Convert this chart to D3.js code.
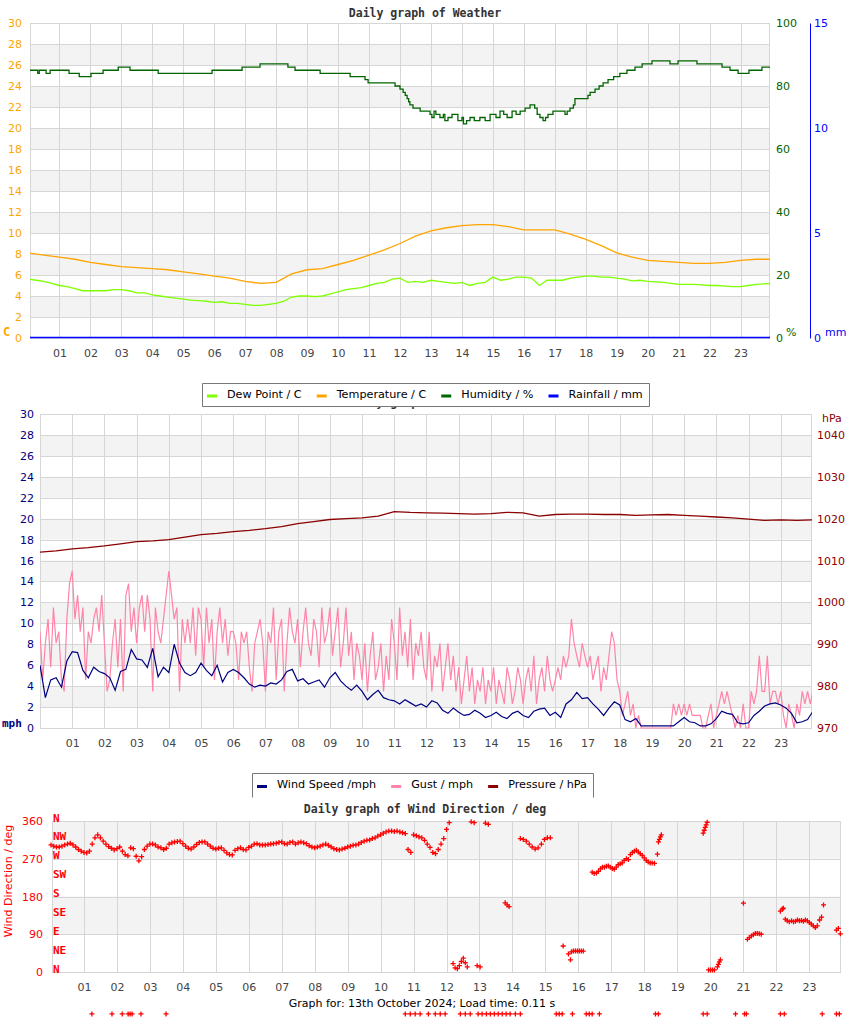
<!DOCTYPE html>
<html>
<head>
<meta charset="utf-8">
<script src="https://cdn.jsdelivr.net/npm/d3@7"></script>
<style>
  body { margin: 0; background: #fff; }
</style>
</head>
<body>
<div id="chart"></div>
<script>
// ---------- data ----------
const hourTicks = [1,2,3,4,5,6,7,8,9,10,11,12,13,14,15,16,17,18,19,20,21,22,23];

// weather panel
const tempTicks = [0,2,4,6,8,10,12,14,16,18,20,22,24,26,28,30];
const humTicks = [0,20,40,60,80,100];
const rainTicks = [0,5,10,15];
// temperature C, every 30 min from 00:00
const tempValues = [8.1,7.9,7.7,7.5,7.2,7.0,6.8,6.7,6.6,6.5,6.3,6.1,5.9,5.7,5.4,5.2,
    5.3,6.1,6.5,6.6,7.0,7.4,7.9,8.4,9.0,9.7,10.2,10.5,10.7,10.8,10.8,10.6,
    10.3,10.3,10.3,9.9,9.4,8.8,8.1,7.7,7.4,7.3,7.2,7.1,7.1,7.2,7.4,7.5,7.5];
// dew point C, every 15 min from 00:00
const dewValues = [5.6,5.5,5.4,5.2,5.0,4.9,4.7,4.5,4.5,4.5,4.5,4.6,4.6,4.5,4.3,4.3,
    4.1,4.0,3.9,3.8,3.7,3.6,3.55,3.5,3.4,3.45,3.3,3.3,3.2,3.1,3.1,3.2,
    3.3,3.5,3.9,4.0,4.0,3.95,4.0,4.2,4.4,4.6,4.7,4.8,5.0,5.2,5.3,5.6,
    5.7,5.3,5.4,5.3,5.5,5.4,5.3,5.2,5.3,5.0,5.2,5.3,5.8,5.5,5.6,5.8,
    5.8,5.7,5.0,5.5,5.5,5.5,5.7,5.8,5.9,5.9,5.8,5.8,5.7,5.6,5.45,5.5,
    5.4,5.35,5.3,5.2,5.1,5.1,5.1,5.05,5.0,5.0,4.95,4.9,4.9,5.0,5.1,5.15,5.2];
// humidity %, [hour, value] steps
const humidity = [[0,85],[0.3,84],[0.35,85],[0.57,84],[0.70,85],[1.31,84],[1.64,83],[2.02,84],
    [2.41,85],[2.90,86],[3.28,85],[4.19,84],[5.93,85],[6.90,86],[7.48,87],[8.38,86],[8.61,85],
    [9.42,84],[10.39,83],[10.87,82],[10.97,81],[11.84,80],[12.0,79],[12.10,78],[12.17,77],
    [12.23,76],[12.28,75],[12.32,74],[12.42,73],[12.65,72],[12.97,71],[13.03,70],[13.1,72],
    [13.16,71],[13.29,70],[13.4,71],[13.45,69],[13.55,70],[13.68,71],[13.87,69],[14.0,70],
    [14.05,68],[14.15,69],[14.26,70],[14.4,69],[14.58,70],[14.75,69],[14.91,71],[15.1,70],
    [15.23,72],[15.35,71],[15.46,70],[15.62,72],[15.75,71],[15.88,72],[16.04,73],[16.2,74],
    [16.35,73],[16.43,71],[16.52,70],[16.62,69],[16.70,70],[16.78,71],[16.94,72],[17.33,71],
    [17.40,72],[17.49,73],[17.60,74],[17.65,76],[18.07,77],[18.14,78],[18.30,79],[18.43,80],
    [18.56,81],[18.72,82],[18.90,83],[19.10,84],[19.33,85],[19.59,86],[19.82,87],[20.14,88],
    [20.72,87],[20.98,88],[21.59,87],[22.40,86],[22.66,85],[22.92,84],[23.27,85],[23.69,86],[24,86]];
const rainfall = [[0,0],[24,0]];

// wind panel
const windTicks = [0,2,4,6,8,10,12,14,16,18,20,22,24,26,28,30];
const pressTicks = [970,980,990,1000,1010,1020,1030,1040];
// wind speed mph, every 10 min from 00:00
const windSpeed = [6.0,2.9,4.6,4.8,3.9,6.4, 7.3,7.2,5.5,4.8,5.8,5.4, 5.2,4.8,3.6,5.4,5.6,7.5,
    6.6,6.5,5.8,7.6,4.9,5.8, 5.3,8.0,6.2,5.3,5.0,5.3, 6.2,5.5,5.0,6.0,4.4,5.3,
    5.6,5.3,4.8,4.2,3.9,4.1, 4.0,4.3,4.2,4.6,5.4,5.6, 4.5,4.7,4.2,4.4,4.6,3.9,
    4.8,5.3,4.5,4.0,3.6,4.1, 3.5,2.7,3.2,3.6,2.9,2.7, 2.6,2.3,2.7,2.4,2.1,2.3,
    2.0,2.6,2.4,1.7,1.4,1.9, 1.5,1.2,1.3,1.7,1.4,1.0, 1.2,1.5,1.1,0.9,1.4,1.6,
    1.2,1.0,1.6,1.8,1.9,1.2, 1.5,1.0,2.3,2.7,3.4,2.8, 2.9,2.3,1.8,1.2,1.9,2.5,
    2.2,0.8,0.6,0.9,0.2,0.2, 0.2,0.2,0.2,0.2,0.2,0.6, 1.0,0.6,0.5,0.2,0.2,0.4,
    0.9,1.6,1.4,1.3,0.5,0.4, 0.5,1.2,1.6,2.1,2.3,2.4, 2.2,1.9,1.4,0.5,0.6,0.8, 1.6];
// gust mph, every 5 min from 00:00
const gust = [
    9.2,4.6,8.1,10.4,5.8,11.5,8.1,9.2,4.6,3.5,10.4,13.8,
    15.0,10.4,12.7,9.2,11.5,4.6,9.2,8.1,10.4,11.5,9.2,12.7,
    8.1,3.5,4.6,8.1,10.4,5.8,10.4,3.5,12.7,13.8,9.2,11.5,
    8.1,11.5,12.7,9.2,12.7,10.4,3.5,11.5,9.2,8.1,10.4,12.7,
    15.0,12.7,10.4,11.5,3.5,10.4,8.1,10.4,8.1,11.5,6.9,11.5,
    10.4,5.8,11.5,8.1,10.4,4.6,9.2,11.5,8.1,10.4,6.9,9.2,
    9.2,8.1,4.6,9.2,8.1,9.2,5.8,3.5,8.1,9.2,10.4,8.1,
    3.5,9.2,8.1,11.5,4.6,9.2,10.4,3.5,8.1,11.5,9.2,8.1,
    10.4,5.8,9.2,11.5,8.1,6.9,10.4,9.2,5.8,11.5,8.1,9.2,
    11.5,6.9,9.2,11.5,5.8,8.1,11.5,6.9,9.2,4.6,8.1,6.9,
    4.6,8.1,3.5,6.9,9.2,4.6,5.8,8.1,3.5,6.9,4.6,10.4,
    8.1,4.6,11.5,6.9,9.2,5.8,10.4,4.6,8.1,6.9,9.2,5.8,
    4.6,9.2,3.5,6.9,5.8,8.1,3.5,5.8,8.1,4.6,6.9,3.5,
    5.8,2.3,4.6,6.9,3.5,5.8,2.3,4.6,3.5,5.8,2.3,4.6,
    3.5,5.8,2.3,4.6,3.5,2.3,5.8,4.6,2.3,3.5,5.8,4.6,
    2.3,4.6,5.8,3.5,6.9,2.3,4.6,5.8,3.5,6.9,4.6,3.5,
    4.6,5.8,4.6,6.9,5.8,6.9,10.4,8.1,6.9,5.8,8.1,6.9,
    5.8,6.9,4.6,5.8,6.9,3.5,5.8,4.6,6.9,9.2,8.1,4.6,
    3.5,1.2,2.3,3.5,1.2,2.3,0,1.2,0,0,0,0,
    0,0,0,0,0,0,0,0,2.3,1.2,2.3,1.2,
    2.3,1.2,2.3,1.2,1.2,1.2,1.2,0,0,1.2,2.3,0,
    1.2,2.3,3.5,2.3,3.5,2.3,1.2,0,1.2,0,2.3,0,
    0,3.5,2.3,3.5,6.9,3.5,3.5,6.9,2.3,3.5,3.5,2.3,
    3.5,1.2,0,2.3,1.2,0,2.3,1.2,3.5,2.3,3.5,2.3,
    3.5];
// pressure hPa, every 30 min from 00:00
const pressure = [1012.0,1012.3,1012.8,1013.1,1013.5,1014.0,1014.5,1014.7,1015.0,1015.6,
    1016.2,1016.5,1016.9,1017.2,1017.6,1018.1,1018.8,1019.3,1019.8,1020.0,1020.2,1020.6,
    1021.7,1021.5,1021.4,1021.3,1021.2,1021.1,1021.2,1021.5,1021.4,1020.6,1021.0,1021.1,
    1021.1,1021.0,1021.0,1020.8,1020.9,1021.0,1020.8,1020.6,1020.4,1020.2,1019.9,1019.6,
    1019.7,1019.6,1019.7];

// wind direction panel
const dirTicks = [0,90,180,270,360];
const compassDegs = [360,315,270,225,180,135,90,45,0];
const compassNames = ["N","NW","W","SW","S","SE","E","NE","N"];
// direction deg, every 5 min from 00:00 to 12:05
const dirEarly = [303,300,298,298,300,303,305,307,303,298,292,288,
    285,284,288,305,320,327,320,312,305,299,295,291,
    294,298,288,280,277,296,294,276,265,275,292,300,
    305,305,303,298,296,292,295,305,308,310,311,312,
    306,300,295,293,298,304,309,310,310,305,300,295,
    293,295,296,290,284,280,279,290,294,296,292,291,
    297,300,305,306,303,303,303,304,305,306,307,309,
    310,306,305,309,310,305,308,310,308,306,301,298,
    296,298,300,303,305,302,298,294,292,291,293,295,
    298,300,302,303,305,309,312,314,315,318,320,324,
    327,331,334,336,336,335,336,334,332,330,292,285,
    327,325,322,320,314,305,297,285,282,292,305,318,
    340,356];
// later readings [hour, deg]
const dirLate = [[12.20,20],[12.26,10],[12.33,8],[12.39,15],[12.45,25],[12.51,33],[12.57,22],[12.63,12],
    [12.75,358],[12.84,356],[12.93,15],[13.02,12],[13.18,355],[13.27,352],
    [13.78,165],[13.84,160],[13.90,156],
    [14.24,318],[14.33,316],[14.42,312],[14.51,305],[14.60,298],[14.69,293],[14.78,296],[14.88,305],
    [14.97,316],[15.06,320],[15.15,320],
    [15.54,62],[15.70,43],[15.76,29],[15.79,48],[15.85,50],[15.91,50],[15.97,50],[16.03,50],[16.09,50],[16.15,50],
    [16.42,238],[16.48,235],[16.55,236],[16.61,240],[16.67,246],[16.73,250],[16.79,250],[16.85,252],
    [16.91,253],[16.97,250],[17.03,247],[17.09,245],[17.15,250],[17.21,256],[17.27,258],[17.33,260],
    [17.39,266],[17.46,270],[17.52,268],[17.58,280],[17.64,285],[17.70,288],[17.76,290],[17.82,286],
    [17.88,282],[17.94,278],[18.00,272],[18.06,266],[18.12,262],[18.18,260],[18.24,260],[18.31,259],
    [18.40,281],[18.43,310],[18.46,316],[18.49,322],[18.52,327],
    [19.79,331],[19.82,338],[19.85,345],[19.88,351],[19.91,357],
    [19.95,5],[20.01,5],[20.07,5],[20.13,5],[20.22,12],[20.25,18],[20.28,24],[20.31,29],
    [21.01,164],
    [21.13,78],[21.19,82],[21.25,86],[21.31,89],[21.37,92],[21.43,92],[21.49,91],[21.55,90],
    [22.13,145],[22.19,150],[22.22,152],
    [22.28,126],[22.34,122],[22.40,120],[22.47,122],[22.53,120],[22.59,121],[22.65,124],[22.71,122],
    [22.77,123],[22.83,121],[22.89,124],[22.95,122],[23.01,118],[23.07,114],[23.13,110],[23.19,106],
    [23.25,110],[23.32,124],[23.38,131],[23.44,160],
    [23.83,100],[23.89,104],[23.95,91]];
// calm readings, logged at -100 deg
const calmDeg = -100;
const calmHours = [1.24,1.85,2.16,2.34,2.40,2.46,2.73,3.49,10.75,10.90,11.05,11.20,11.45,11.66,
    11.81,11.96,12.42,12.57,12.72,12.96,13.08,13.21,13.33,13.45,13.57,13.69,13.81,13.93,14.09,
    14.24,15.33,15.42,15.51,15.82,16.24,16.33,16.42,16.64,18.34,18.43,19.79,19.91,20.77,21.04,
    21.10,22.13,22.25,23.40,23.83,23.92];

// ---------- drawing ----------
const sans = "'DejaVu Sans', sans-serif";
const mono = "'DejaVu Sans Mono', monospace";
const gridColor = "#d6d6d6", bandColor = "#f3f3f3";

const svg = d3.select("#chart").append("svg")
    .attr("width", 850).attr("height", 1017)
    .style("display", "block")
    .attr("font-family", sans);

let clipId = 0;
function frame(x, y, bandStarts, bandSize, gridVals) {
    const [x0, x1] = x.range(), [yb, yt] = y.range();
    const g = svg.append("g");
    g.selectAll(null).data(bandStarts).join("rect")
        .attr("x", x0).attr("width", x1 - x0)
        .attr("y", d => y(d + bandSize)).attr("height", d => y(d) - y(d + bandSize))
        .attr("fill", bandColor);
    g.selectAll(null).data(gridVals).join("line")
        .attr("x1", x0).attr("x2", x1)
        .attr("y1", d => Math.round(y(d)) + 0.5).attr("y2", d => Math.round(y(d)) + 0.5)
        .attr("stroke", gridColor);
    g.selectAll(null).data(hourTicks).join("line")
        .attr("x1", d => Math.round(x(d)) + 0.5).attr("x2", d => Math.round(x(d)) + 0.5)
        .attr("y1", yb).attr("y2", yt)
        .attr("stroke", gridColor);
    g.append("rect")
        .attr("x", x0 + 0.5).attr("y", yt + 0.5)
        .attr("width", x1 - x0 - 1).attr("height", yb - yt)
        .attr("fill", "none").attr("stroke", gridColor);
    // clip for the series
    const id = "clip" + (clipId++);
    svg.append("clipPath").attr("id", id).append("rect")
        .attr("x", x0).attr("y", yt - 2).attr("width", x1 - x0).attr("height", yb - yt + 3);
    return id;
}

function axis(gen, tx, ty, color) {
    const g = svg.append("g").attr("transform", `translate(${tx},${ty})`).call(gen);
    g.attr("font-family", null).attr("font-size", 11);
    g.select(".domain").remove();
    g.selectAll("text").attr("fill", color);
    return g;
}

function xAxis(x, y) {
    axis(d3.axisBottom(x).tickValues(hourTicks).tickFormat(d3.format("02d"))
        .tickSize(0).tickPadding(11), 0, y.range()[0], "#444");
}

function title(text, y) {
    svg.append("text").attr("x", 425).attr("y", y)
        .attr("text-anchor", "middle")
        .attr("font-family", mono).attr("font-weight", "bold").attr("font-size", 11.5)
        .attr("fill", "#333").text(text);
}

function label(text, x, y, color, opts = {}) {
    return svg.append("text").attr("x", x).attr("y", y)
        .attr("dominant-baseline", "middle")
        .attr("font-family", opts.font || sans)
        .attr("font-weight", opts.bold ? "bold" : null)
        .attr("font-size", opts.size || 11)
        .attr("text-anchor", opts.anchor || "start")
        .attr("fill", color).text(text);
}

function legend(x0, yTop, h, names, colors, closed) {
    const g = svg.append("g");
    const box = g.append("path");
    let sx = x0 + 5;
    const cy = yTop + h / 2;
    names.forEach((n, i) => {
        g.append("line").attr("x1", sx).attr("x2", sx + 10)
            .attr("y1", cy + 1.5).attr("y2", cy + 1.5)
            .attr("stroke", colors[i]).attr("stroke-width", 3);
        const t = g.append("text").attr("x", sx + 20).attr("y", cy)
            .attr("dominant-baseline", "middle").attr("font-size", 11.2)
            .attr("fill", "#000").text(n);
        sx = sx + 20 + t.node().getComputedTextLength() + 15;
    });
    const x1 = sx - 15 + 6;
    const L = x0 + 0.5, R = Math.round(x1) + 0.5, T = yTop + 0.5, B = yTop + h + 0.5;
    box.attr("d", closed ? `M${L},${T}H${R}V${B}H${L}Z` : `M${L},${B}V${T}H${R}V${B}`)
        .attr("fill", "#fff").attr("stroke", "#777");
}

// ---- panel 1: weather ----
title("Daily graph of Weather", 17);
const x1 = d3.scaleLinear().domain([0.05, 23.95]).range([30, 770]);
const yT = d3.scaleLinear().domain([0, 30]).range([338, 23]);
const yH = d3.scaleLinear().domain([0, 100]).range([338, 23]);
const yR = d3.scaleLinear().domain([0, 15]).range([338, 23]);
const clip1 = frame(x1, yT, [2,6,10,14,18,22,26], 2, tempTicks);

const p1 = svg.append("g").attr("clip-path", `url(#${clip1})`).attr("fill", "none")
    .attr("stroke-width", 1.3);
p1.append("path").datum(humidity)
    .attr("d", d3.line().x(d => x1(d[0])).y(d => yH(d[1])).curve(d3.curveStepAfter))
    .attr("stroke", "#006400");
p1.append("path").datum(tempValues)
    .attr("d", d3.line().x((d, i) => x1(i * 0.5)).y(d => yT(d)))
    .attr("stroke", "#ffa500");
p1.append("path").datum(dewValues)
    .attr("d", d3.line().x((d, i) => x1(i * 0.25)).y(d => yT(d)))
    .attr("stroke", "#7fff00");
p1.append("path").datum(rainfall)
    .attr("d", d3.line().x(d => x1(d[0])).y(d => yR(d[1]) - 0.5))
    .attr("stroke", "#0000ff").attr("stroke-width", 1.6);

axis(d3.axisLeft(yT).tickValues(tempTicks).tickSize(0).tickPadding(8), 30, 0, "#ffa500");
axis(d3.axisRight(yH).tickValues(humTicks).tickSize(0).tickPadding(6), 770, 0, "#006400");
const rainAxis = svg.append("g").attr("transform", "translate(810,0)")
    .call(d3.axisRight(yR).tickValues(rainTicks).tickSize(0).tickSizeOuter(0).tickPadding(4));
rainAxis.attr("font-family", null).attr("font-size", 11);
rainAxis.select(".domain").attr("stroke", "#0000ff");
rainAxis.selectAll("text").attr("fill", "#0000ff");
xAxis(x1, yT);
label("C", 3, 332, "#ffa500", {font: mono, bold: true, size: 12});
label("%", 786, 333, "#006400");
label("mm", 825, 333, "#0000ff");

// ---- panel 2: wind / pressure ----
// this title sits mostly under the weather legend, as in the original page
title("Daily graph of Weather", 405.5);
const x2 = d3.scaleLinear().domain([0, 23.97]).range([40, 812]);
const yW = d3.scaleLinear().domain([0, 30]).range([728, 414]);
const yP = d3.scaleLinear().domain([970, 1045]).range([728, 414]);
const clip2 = frame(x2, yW, [2,6,10,14,18,22,26], 2, windTicks);

const p2 = svg.append("g").attr("clip-path", `url(#${clip2})`).attr("fill", "none")
    .attr("stroke-width", 1.2);
p2.append("path").datum(gust)
    .attr("d", d3.line().x((d, i) => x2(i / 12)).y(d => yW(d)))
    .attr("stroke", "#ff85a8");
p2.append("path").datum(windSpeed)
    .attr("d", d3.line().x((d, i) => x2(i / 6)).y(d => yW(d)))
    .attr("stroke", "#000080");
p2.append("path").datum(pressure)
    .attr("d", d3.line().x((d, i) => x2(i * 0.5)).y(d => yP(d)))
    .attr("stroke", "#8b0000").attr("stroke-width", 1.3);

axis(d3.axisLeft(yW).tickValues(windTicks).tickSize(0).tickPadding(6), 40, 0, "#000080");
axis(d3.axisRight(yP).tickValues(pressTicks).tickFormat(d3.format("d"))
    .tickSize(0).tickPadding(5), 812, 0, "#8b0000");
xAxis(x2, yW);
label("mph", 2, 723.5, "#000080", {font: mono, bold: true});
label("hPa", 822, 419, "#8b0000");

legend(202, 383, 23, ["Dew Point / C", "Temperature / C", "Humidity / %", "Rainfall / mm"],
    ["#7fff00", "#ffa500", "#006400", "#0000ff"], true);

// ---- panel 3: wind direction ----
legend(252, 773, 24, ["Wind Speed /mph", "Gust / mph", "Pressure / hPa"],
    ["#000080", "#ff85a8", "#8b0000"], false);
title("Daily graph of Wind Direction / deg", 813);
const x3 = d3.scaleLinear().domain([0.03, 23.97]).range([52, 841]);
const yD = d3.scaleLinear().domain([0, 360]).range([972, 821]);
frame(x3, yD, [90, 270], 90, dirTicks);

axis(d3.axisLeft(yD).tickValues(dirTicks).tickSize(0).tickPadding(9), 52, 0, "#ff0000");
xAxis(x3, yD);
svg.append("g").selectAll("text").data(compassDegs).join("text")
    .attr("x", 53).attr("y", d => yD(d) - 2.5)
    .attr("dominant-baseline", "middle")
    .attr("font-family", mono).attr("font-weight", "bold").attr("font-size", 11)
    .attr("fill", "#ff0000")
    .text((d, i) => compassNames[i]);
svg.append("text")
    .attr("transform", "translate(9,881) rotate(-90)")
    .attr("text-anchor", "middle").attr("dominant-baseline", "middle")
    .attr("font-size", 11).attr("fill", "#ff0000")
    .text("Wind Direction / deg");

const dirPoints = dirEarly.map((d, i) => [i / 12, d])
    .concat(dirLate)
    .concat(calmHours.map(h => [h, calmDeg]));
svg.append("g").selectAll("path").data(dirPoints).join("path")
    .attr("transform", d => `translate(${x3(d[0])},${yD(d[1])})`)
    .attr("d", "M-2.5,0H2.5M0,-2.5V2.5")
    .attr("stroke", "#ff0000").attr("stroke-width", 1.3);

svg.append("text").attr("x", 422).attr("y", 1004)
    .attr("text-anchor", "middle").attr("dominant-baseline", "middle")
    .attr("font-size", 11).attr("fill", "#000")
    .text("Graph for: 13th October 2024; Load time: 0.11 s");
</script>
</body>
</html>
